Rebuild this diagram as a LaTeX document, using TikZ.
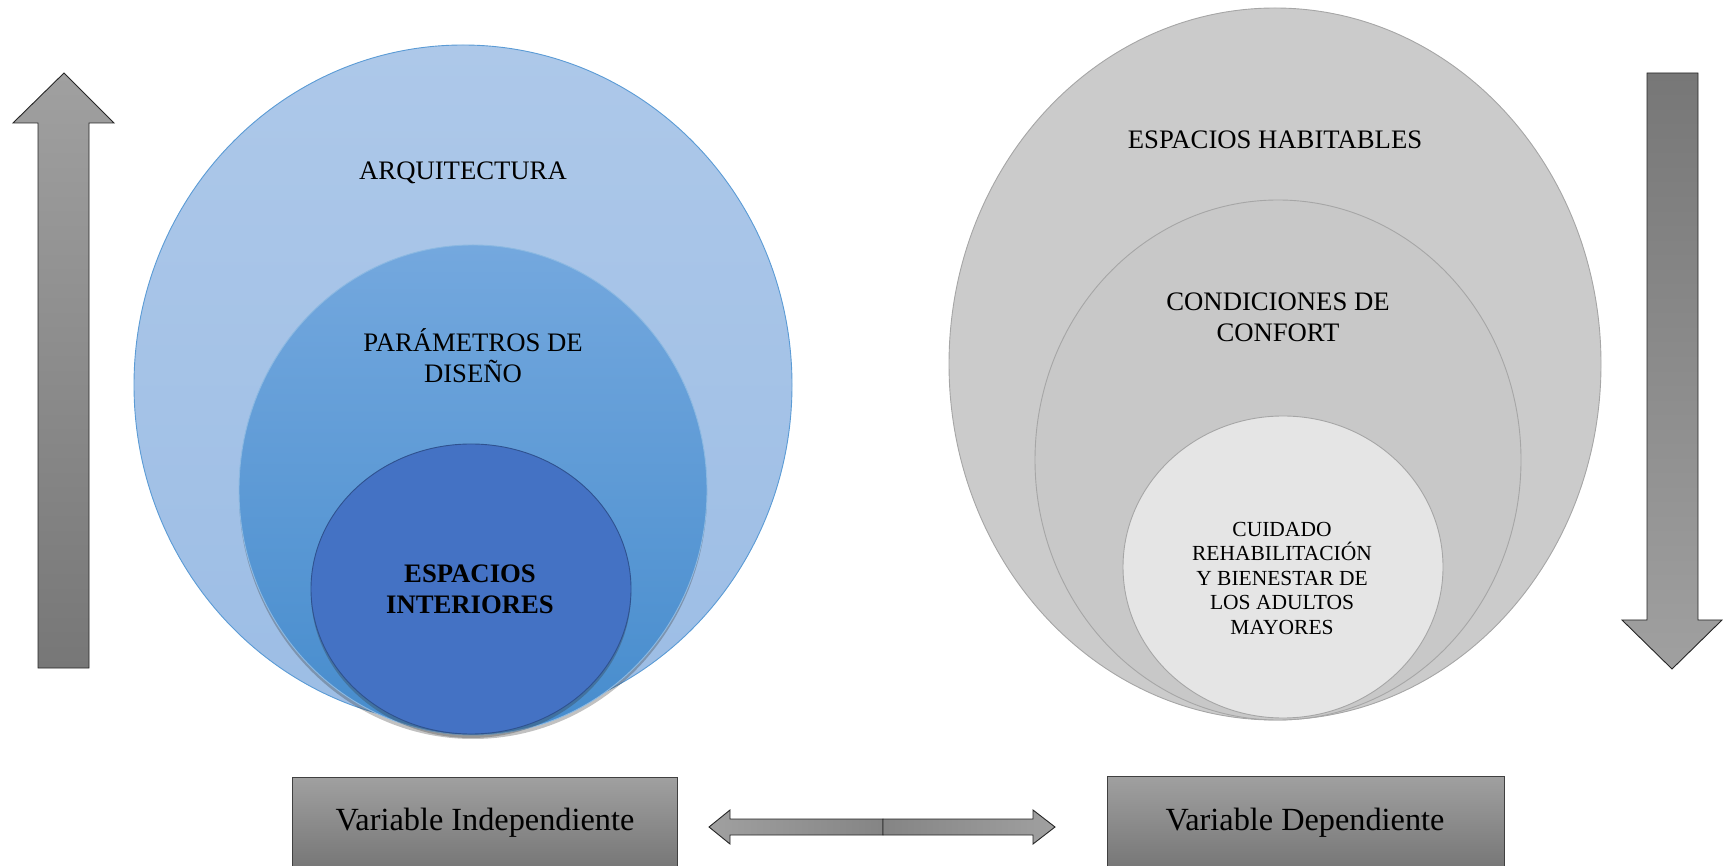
\documentclass[tikz,border=0pt]{standalone}
\usepackage{fontspec}
\setmainfont{Liberation Serif}
\usetikzlibrary{shapes.geometric,shadows}
\definecolor{bluelight}{HTML}{ADC8E9}
\definecolor{bluelightb}{HTML}{9CBDE5}
\definecolor{bluemidt}{HTML}{74A8DE}
\definecolor{bluemidb}{HTML}{468CCD}
\definecolor{blueinner}{HTML}{4472C4}
\definecolor{blueborder}{HTML}{5B9BD5}
\definecolor{blueinnerb}{HTML}{2F528F}
\definecolor{grayouter}{HTML}{CBCBCB}
\definecolor{graymid}{HTML}{C8C8C8}
\definecolor{grayinner}{HTML}{E5E5E5}
\definecolor{grayline}{HTML}{A6A6A6}
\definecolor{arrowlight}{HTML}{A0A0A0}
\definecolor{arrowdark}{HTML}{777777}
\tikzset{
  circ/.style={ellipse, inner sep=0pt, line width=0.9pt},
  label/.style={align=center, font=\fontsize{26.7}{31}\selectfont, text=black},
  small/.style={align=center, font=\fontsize{21.5}{24.5}\selectfont, text=black},
  varbox/.style={draw=black!75, line width=0.9pt, top color=arrowlight, bottom color=arrowdark},
  vartext/.style={font=\fontsize{32.3}{36}\selectfont, text=black},
  bigarrow/.style={draw=black!85, line width=0.9pt},
  shad/.style={drop shadow={shadow xshift=0pt, shadow yshift=-4pt, opacity=0.3, fill=black!80}}
}
\begin{document}
\begin{tikzpicture}[x=1pt,y=1pt]
\useasboundingbox (0,0) rectangle (1723,865);
% left vertical arrow
\draw[bigarrow, top color=arrowlight, bottom color=arrowdark]
  (38,197) -- (89,197) -- (89,742) -- (114,742) -- (64,792) -- (13,742) -- (38,742) -- cycle;
% right vertical arrow
\draw[bigarrow, top color=arrowdark, bottom color=arrowlight]
  (1647,792) -- (1698,792) -- (1698,245) -- (1722,245) -- (1672,196) -- (1622,245) -- (1647,245) -- cycle;
% left circles
\node[circ, draw=blueborder, top color=bluelight, bottom color=bluelightb,
      minimum width=658pt, minimum height=680pt] (arq) at (463,480) {};
\node[circ, shad, draw=blueborder!70, top color=bluemidt, bottom color=bluemidb,
      minimum width=468pt, minimum height=490pt] (par) at (473,375) {};
\node[circ, shad, draw=blueinnerb, fill=blueinner,
      minimum width=320pt, minimum height=290pt] (esp) at (471,276) {};
\node[label] (tarq) at (463,692) {ARQUITECTURA};
\node[label] (tpar) at (473,509) {PARÁMETROS DE\\DISEÑO};
\node[label, font=\fontsize{26.7}{31}\selectfont\bfseries] (tesp) at (470,276) {ESPACIOS\\INTERIORES};
% right circles
\node[circ, draw=grayline, fill=grayouter,
      minimum width=652pt, minimum height=712pt] (hab) at (1275,501) {};
\node[circ, draw=grayline, fill=graymid,
      minimum width=486pt, minimum height=520pt] (con) at (1278,405) {};
\node[circ, draw=grayline, fill=grayinner,
      minimum width=320pt, minimum height=302pt] (cui) at (1283,298) {};
\node[label] (thab) at (1275,725) {ESPACIOS HABITABLES};
\node[label] (tcon) at (1278,548) {CONDICIONES DE\\CONFORT};
\node[small] (tcui) at (1282,287) {CUIDADO\\REHABILITACIÓN\\Y BIENESTAR DE\\LOS ADULTOS\\MAYORES};
% bottom boxes
\draw[varbox] (292,-2) rectangle (677,88);
\node[vartext] (vi) at (485,42) {Variable Independiente};
\draw[varbox] (1107,-2) rectangle (1504,89);
\node[vartext] (vd) at (1305,42) {Variable Dependiente};
% double arrow
\draw[bigarrow, left color=arrowlight, right color=arrowdark!90]
  (883,46) -- (730,46) -- (730,55) -- (709,38) -- (730,21) -- (730,30) -- (883,30) -- cycle;
\draw[bigarrow, left color=arrowdark!90, right color=arrowlight]
  (883,46) -- (1033,46) -- (1033,55) -- (1055,38) -- (1033,21) -- (1033,30) -- (883,30) -- cycle;
\end{tikzpicture}
\end{document}
